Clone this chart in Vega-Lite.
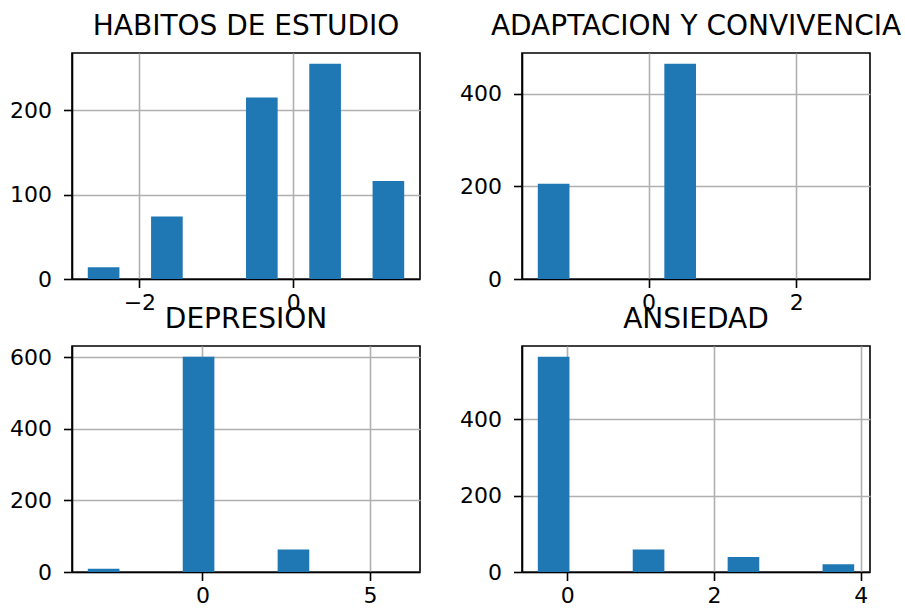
{
  "$schema": "https://vega.github.io/schema/vega-lite/v6.json",
  "autosize": {"type": "pad"},
  "padding": {"left": 8, "top": 12, "right": 0, "bottom": 0},
  "background": "white",
  "datasets": {
    "habitos": [
      {"x0": -2.67, "x1": -2.259, "count": 14},
      {"x0": -1.848, "x1": -1.437, "count": 74},
      {"x0": -0.615, "x1": -0.204, "count": 215},
      {"x0": 0.207, "x1": 0.618, "count": 255},
      {"x0": 1.029, "x1": 1.44, "count": 116}
    ],
    "adaptacion": [
      {"x0": -1.5, "x1": -1.071, "count": 206},
      {"x0": 0.214, "x1": 0.643, "count": 465}
    ],
    "depresion": [
      {"x0": -3.42, "x1": -2.476, "count": 9},
      {"x0": -0.588, "x1": 0.356, "count": 601},
      {"x0": 2.244, "x1": 3.188, "count": 63}
    ],
    "ansiedad": [
      {"x0": -0.4, "x1": 0.031, "count": 564},
      {"x0": 0.893, "x1": 1.324, "count": 59},
      {"x0": 2.186, "x1": 2.617, "count": 39},
      {"x0": 3.479, "x1": 3.91, "count": 20}
    ]
  },
  "config": {
    "font": "DejaVu Sans",
    "view": {"stroke": "black", "strokeWidth": 1.6},
    "title": {"fontSize": 28, "fontWeight": "normal", "color": "black", "baseline": "alphabetic", "offset": 12, "anchor": "middle"},
    "axis": {
      "title": null,
      "grid": true,
      "gridColor": "#b0b0b0",
      "gridWidth": 1.6,
      "domain": true,
      "domainColor": "black",
      "domainWidth": 1.6,
      "tickColor": "black",
      "tickWidth": 1.6,
      "tickSize": 8.5,
      "labelFontSize": 22,
      "labelColor": "black",
      "labelPadding": 5,
      "zindex": 1
    },
    "axisY": {"labelPadding": 12},
    "bar": {"color": "#1f77b4"}
  },
  "columns": 2,
  "bounds": "flush",
  "spacing": {"row": 67, "column": 102},
  "concat": [
    {
      "title": "HABITOS DE ESTUDIO",
      "width": 348,
      "height": 226,
      "data": {"name": "habitos"},
      "mark": {"type": "bar", "clip": true},
      "encoding": {
        "x": {"field": "x0", "type": "quantitative", "scale": {"domain": [-2.875, 1.645], "nice": false, "zero": false}, "axis": {"values": [-2, 0], "format": "d"}},
        "x2": {"field": "x1"},
        "y": {"field": "count", "type": "quantitative", "scale": {"domain": [0, 267.75], "nice": false}, "axis": {"values": [0, 100, 200]}},
        "y2": {"datum": 0}
      }
    },
    {
      "title": "ADAPTACION Y CONVIVENCIA",
      "width": 348,
      "height": 226,
      "data": {"name": "adaptacion"},
      "mark": {"type": "bar", "clip": true},
      "encoding": {
        "x": {"field": "x0", "type": "quantitative", "scale": {"domain": [-1.714, 3.0], "nice": false, "zero": false}, "axis": {"values": [0, 2], "format": "d"}},
        "x2": {"field": "x1"},
        "y": {"field": "count", "type": "quantitative", "scale": {"domain": [0, 488.25], "nice": false}, "axis": {"values": [0, 200, 400]}},
        "y2": {"datum": 0}
      }
    },
    {
      "title": "DEPRESION",
      "width": 348,
      "height": 226,
      "data": {"name": "depresion"},
      "mark": {"type": "bar", "clip": true},
      "encoding": {
        "x": {"field": "x0", "type": "quantitative", "scale": {"domain": [-3.892, 6.492], "nice": false, "zero": false}, "axis": {"values": [0, 5], "format": "d"}},
        "x2": {"field": "x1"},
        "y": {"field": "count", "type": "quantitative", "scale": {"domain": [0, 631.05], "nice": false}, "axis": {"values": [0, 200, 400, 600]}},
        "y2": {"datum": 0}
      }
    },
    {
      "title": "ANSIEDAD",
      "width": 348,
      "height": 226,
      "data": {"name": "ansiedad"},
      "mark": {"type": "bar", "clip": true},
      "encoding": {
        "x": {"field": "x0", "type": "quantitative", "scale": {"domain": [-0.6155, 4.1255], "nice": false, "zero": false}, "axis": {"values": [0, 2, 4], "format": "d"}},
        "x2": {"field": "x1"},
        "y": {"field": "count", "type": "quantitative", "scale": {"domain": [0, 592.2], "nice": false}, "axis": {"values": [0, 200, 400]}},
        "y2": {"datum": 0}
      }
    }
  ]
}
